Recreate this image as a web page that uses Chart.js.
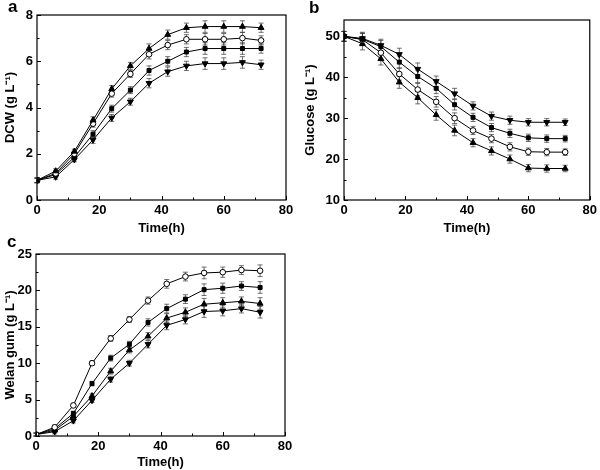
<!DOCTYPE html>
<html>
<head>
<meta charset="utf-8">
<script src="https://cdn.jsdelivr.net/npm/chart.js@4.4.0/dist/chart.umd.min.js"></script>
<style>
  body { margin: 0; background: #fff; }
  #wrap { position: relative; width: 600px; height: 470px; overflow: hidden; }
  .panel { position: absolute; }
  .tag { position: absolute; font: bold 17px 'Liberation Sans', Arial, sans-serif; color: #000; }
</style>
</head>
<body>
<div id="wrap">
  <div class="panel" style="left:0;top:0;width:300px;height:236px"><canvas id="chartA"></canvas></div>
  <div class="panel" style="left:300px;top:0;width:300px;height:236px"><canvas id="chartB"></canvas></div>
  <div class="panel" style="left:0;top:230px;width:300px;height:240px"><canvas id="chartC"></canvas></div>
  <div class="tag" style="left:8px;top:-3px">a</div>
  <div class="tag" style="left:309px;top:-2px">b</div>
  <div class="tag" style="left:7px;top:232px">c</div>
</div>
<script>
// sampling times (h)
const times = [0, 6, 12, 18, 24, 30, 36, 42, 48, 54, 60, 66, 72];

// a: DCW (g/L)
const dcwUp     = [0.85, 1.25, 2.1, 3.45, 4.8, 5.8, 6.55, 7.15, 7.45, 7.5, 7.5, 7.5, 7.45];
const dcwCircle = [0.85, 1.15, 2.0, 3.3, 4.6, 5.45, 6.3, 6.7, 6.95, 6.95, 6.95, 7.0, 6.9];
const dcwSquare = [0.85, 1.1, 1.85, 2.85, 3.95, 4.75, 5.6, 6.0, 6.4, 6.55, 6.55, 6.55, 6.55];
const dcwDown   = [0.85, 1.0, 1.75, 2.6, 3.55, 4.25, 5.05, 5.55, 5.8, 5.9, 5.9, 5.95, 5.85];
const dcwErr    = [0.1, 0.1, 0.1, 0.15, 0.15, 0.15, 0.2, 0.2, 0.2, 0.25, 0.25, 0.25, 0.2];

// b: glucose (g/L)
const gluDown   = [50, 49.5, 47.8, 45.6, 42.0, 39.0, 36.0, 33.0, 30.5, 29.5, 29.0, 29.0, 29.0];
const gluSquare = [50, 49.3, 47.5, 43.7, 40.2, 37.3, 33.3, 30.2, 27.7, 26.3, 25.2, 25.0, 25.0];
const gluCircle = [50, 49.2, 46.0, 40.8, 37.0, 34.0, 30.0, 27.0, 25.0, 23.0, 21.8, 21.7, 21.7];
const gluUp     = [50, 48.2, 44.5, 38.8, 35.0, 30.8, 27.0, 24.0, 22.0, 20.0, 17.8, 17.7, 17.7];
const gluErr    = [1.2, 1.5, 1.5, 1.5, 1.5, 1.3, 1.3, 1.0, 1.0, 1.0, 0.9, 0.9, 0.8];

// c: welan gum (g/L)
const welCircle = [0.2, 1.2, 4.2, 10.0, 13.4, 16.0, 18.6, 20.9, 21.9, 22.4, 22.5, 22.8, 22.7];
const welSquare = [0.2, 1.0, 3.1, 7.2, 10.7, 12.6, 15.6, 17.5, 18.8, 20.1, 20.3, 20.6, 20.4];
const welUp     = [0.2, 0.8, 2.7, 5.5, 8.9, 11.8, 13.7, 16.2, 17.0, 18.1, 18.3, 18.5, 18.2];
const welDown   = [0.2, 0.6, 2.1, 4.9, 7.8, 10.0, 12.6, 15.2, 16.0, 17.1, 17.2, 17.5, 17.0];
const welErr    = [0.2, 0.3, 0.3, 0.3, 0.4, 0.4, 0.5, 0.6, 0.6, 0.8, 0.7, 0.6, 0.8];

const FONT = "'Liberation Sans Narrow', 'Liberation Sans', Arial, sans-serif";

// frame box, inward ticks and error bars
const framePlugin = {
    id: 'frame',
    beforeDatasetsDraw(chart) {
        const { ctx, scales: { x, y } } = chart;
        ctx.save();
        ctx.strokeStyle = '#333';
        ctx.lineWidth = 0.7;
        chart.data.datasets.forEach(ds => {
            if (!ds.errors) return;
            ds.data.forEach((p, i) => {
                const e = ds.errors[i];
                const px = x.getPixelForValue(p.x);
                const y1 = y.getPixelForValue(p.y - e);
                const y2 = y.getPixelForValue(p.y + e);
                ctx.beginPath();
                ctx.moveTo(px, y1); ctx.lineTo(px, y2);
                ctx.moveTo(px - 2.5, y1); ctx.lineTo(px + 2.5, y1);
                ctx.moveTo(px - 2.5, y2); ctx.lineTo(px + 2.5, y2);
                ctx.stroke();
            });
        });
        ctx.restore();
    },
    afterDatasetsDraw(chart, args, opts) {
        const { ctx, chartArea: a, scales: { x, y } } = chart;
        ctx.save();
        ctx.strokeStyle = '#000';
        ctx.lineWidth = 1.2;
        ctx.strokeRect(a.left, a.top, a.right - a.left, a.bottom - a.top);
        ctx.lineWidth = 1;
        ctx.beginPath();
        for (let v = x.min; v <= x.max + 1e-6; v += opts.xMinor) {
            const len = Math.abs(v % opts.xMajor) < 1e-6 ? 4 : 2.5;
            const px = Math.round(x.getPixelForValue(v)) + 0.5;
            ctx.moveTo(px, a.bottom); ctx.lineTo(px, a.bottom - len);
        }
        for (let v = opts.yStart; v <= y.max + 1e-6; v += opts.yMinor) {
            const len = Math.abs((v - opts.yStart) % opts.yMajor) < 1e-6 ? 4 : 2.5;
            const py = Math.round(y.getPixelForValue(v)) + 0.5;
            ctx.moveTo(a.left, py); ctx.lineTo(a.left + len, py);
        }
        ctx.stroke();
        ctx.restore();
    }
};

function series(vals, style, errs) {
    const down = style === 'down';
    return {
        data: times.map((t, i) => ({ x: t, y: vals[i] })),
        errors: errs,
        borderColor: '#000',
        borderWidth: 1,
        pointStyle: style === 'up' || down ? 'triangle' : (style === 'square' ? 'rect' : 'circle'),
        rotation: down ? 180 : 0,
        pointRadius: style === 'square' ? 2.8 : (style === 'circle' ? 2.8 : 3.4),
        pointBackgroundColor: style === 'circle' ? '#fff' : '#000',
        pointBorderColor: '#000',
        pointBorderWidth: 1,
        tension: 0
    };
}

function makeChart(id, datasets, cfg) {
    new Chart(document.getElementById(id), {
        type: 'line',
        data: { datasets: datasets },
        plugins: [framePlugin],
        options: {
            responsive: true,
            maintainAspectRatio: false,
            animation: false,
            layout: { padding: { top: cfg.top, right: cfg.right, left: 0, bottom: 0 } },
            plugins: {
                legend: { display: false },
                tooltip: { enabled: false },
                frame: { xMinor: 10, xMajor: 20, yMinor: cfg.yMinor, yMajor: cfg.yStep, yStart: cfg.yMin }
            },
            scales: {
                x: {
                    type: 'linear', min: 0, max: 80,
                    grid: { display: false, drawTicks: false },
                    border: { display: false },
                    ticks: { stepSize: 20, padding: 3, color: '#000', font: { family: FONT, weight: 'bold', size: 13 } },
                    title: { display: true, text: 'Time(h)', color: '#000', padding: { top: 0, bottom: 0 }, font: { family: FONT, weight: 'bold', size: 13 } },
                    afterFit: s => { s.height = cfg.xH; }
                },
                y: {
                    type: 'linear', min: cfg.yMin, max: cfg.yMax,
                    grid: { display: false, drawTicks: false },
                    border: { display: false },
                    ticks: {
                        stepSize: cfg.yStep, padding: 4, color: '#000',
                        font: { family: FONT, weight: 'bold', size: 13 },
                        callback: v => ((v - cfg.yMin) % cfg.yStep === 0 ? v : '')
                    },
                    title: { display: true, text: cfg.yTitle, color: '#000', padding: { top: 3, bottom: 0 }, font: { family: FONT, weight: 'bold', size: 13 } },
                    afterFit: s => { s.width = cfg.yW; }
                }
            }
        }
    });
}

makeChart('chartA', [
    series(dcwUp, 'up', dcwErr),
    series(dcwCircle, 'circle', dcwErr),
    series(dcwSquare, 'square', dcwErr),
    series(dcwDown, 'down', dcwErr)
], { top: 15, right: 14, xH: 36, yW: 37, yMin: 0, yMax: 8, yStep: 2, yMinor: 1, yTitle: 'DCW (g L⁻¹)' });

makeChart('chartB', [
    series(gluDown, 'down', gluErr),
    series(gluSquare, 'square', gluErr),
    series(gluCircle, 'circle', gluErr),
    series(gluUp, 'up', gluErr)
], { top: 20, right: 7, xH: 36, yW: 44, yMin: 10, yMax: 54, yStep: 10, yMinor: 5, yTitle: 'Glucose (g L⁻¹)' });

makeChart('chartC', [
    series(welCircle, 'circle', welErr),
    series(welSquare, 'square', welErr),
    series(welUp, 'up', welErr),
    series(welDown, 'down', welErr)
], { top: 24, right: 15, xH: 34, yW: 36, yMin: 0, yMax: 25, yStep: 5, yMinor: 2.5, yTitle: 'Welan gum (g L⁻¹)' });
</script>
</body>
</html>
